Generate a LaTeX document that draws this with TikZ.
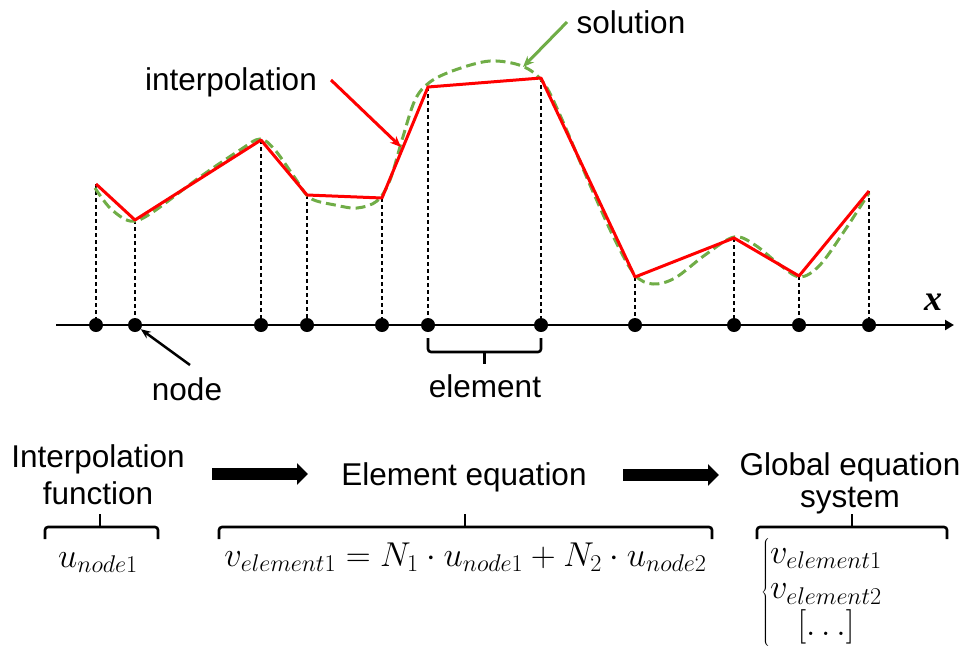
\RequirePackage{fix-cm}
\documentclass[tikz,border=0pt]{standalone}
\usepackage[no-math]{fontspec}
\setmainfont{Liberation Sans}
\newfontfamily\axisfont{Liberation Serif}
\usetikzlibrary{arrows.meta}
\definecolor{fgreen}{RGB}{112,173,71}
\begin{document}
\begin{tikzpicture}[x=1pt,y=-1pt,
  lbl/.style={inner sep=0pt, font=\fontsize{31.5}{36}\selectfont, align=center},
  mth/.style={inner sep=0pt, font=\fontsize{34.5}{35.5}\selectfont},
  dot/.style={circle, fill=black, inner sep=0pt, minimum size=14pt},
  guide/.style={black, line width=1.3pt, dash pattern=on 4pt off 3pt},
  interp/.style={red, line width=3pt, line join=round},
  sol/.style={fgreen, line width=3pt, dash pattern=on 10pt off 5pt},
  brace/.style={black, line width=2.6pt, rounded corners=3pt},
  bigarrow/.style={black, line width=12pt, -{Triangle[length=11pt,width=21pt]}},
]
\useasboundingbox (0,0) rectangle (965,646);

% axis
\coordinate (axs) at (56,325);
\coordinate (axe) at (954,325);
\draw[line width=2.5pt, -{Triangle[length=9pt,width=10pt]}] (axs) -- (axe);
\node[inner sep=0pt, anchor=base, font=\axisfont\fontsize{36}{40}\selectfont\bfseries\itshape] (xl) at (933,310) {x};

% nodes and interpolation points
\foreach \i/\x/\y in {1/96/184, 2/135/220, 3/261/140, 4/307/195, 5/382/198, 6/428/87, 7/541/78, 8/635/277, 9/734/238, 10/799/276, 11/869/191}{
  \node[dot] (n\i) at (\x,325) {};
  \coordinate (p\i) at (\x,\y);
}
\foreach \i in {1,...,11}{ \draw[guide] (p\i) -- (n\i); }

% solution curve
\draw[sol] plot[smooth, tension=0.55] coordinates {(95,188) (110,208) (130,221) (150,214) (200,177) (240,150) (260,139) (275,150) (295,178) (310,198) (335,205) (357,208) (377,201) (390,180) (402,140) (415,100) (430,82) (455,70) (490,61) (522,66) (543,82) (560,115) (590,185) (615,240) (635,275) (653,284) (675,278) (705,255) (734,237) (755,245) (780,265) (800,277) (820,265) (845,230) (869,193)};

% interpolation polyline
\draw[interp] (p1) -- (p2) -- (p3) -- (p4) -- (p5) -- (p6) -- (p7) -- (p8) -- (p9) -- (p10) -- (p11);

% labels with pointers
\node[lbl, anchor=base] (tinterp) at (231,90) {interpolation};
\coordinate (ia) at (331,80);
\coordinate (ib) at (401,147);
\draw[red, line width=3pt, -{Stealth[length=11pt,width=9pt]}] (ia) -- (ib);

\node[lbl, anchor=base] (tsol) at (631,33) {solution};
\coordinate (sa) at (567,22);
\coordinate (sb) at (523,67);
\draw[fgreen, line width=3pt, -{Stealth[length=11pt,width=9pt]}] (sa) -- (sb);

\node[lbl, anchor=base] (tnode) at (187,400) {node};
\coordinate (na) at (190,365);
\draw[black, line width=2.5pt, -{Stealth[length=10pt,width=8pt]}] (na) -- (n2);

\node[lbl, anchor=base] (telem) at (485,397) {element};
\draw[brace] (428,338) -- (428,352) -- (541,352) -- (541,338);
\draw[brace] (484.5,352) -- (484.5,364);

% bottom row
\node[lbl, anchor=base, font=\fontsize{31.5}{36.5}\selectfont] (tif) at (98,504) {Interpolation\\function};
\node[lbl, anchor=base] (teq) at (464,485) {Element equation};
\node[lbl, anchor=base, font=\fontsize{31.5}{32}\selectfont] (tglob) at (850,507) {Global equation\\system};

\coordinate (a1s) at (212,474);
\coordinate (a1e) at (308,474);
\coordinate (a2s) at (623,475);
\coordinate (a2e) at (719,475);
\draw[bigarrow] (a1s) -- (a1e);
\draw[bigarrow] (a2s) -- (a2e);

\draw[brace] (45,539) -- (45,527) -- (158,527) -- (158,539);
\draw[brace] (100,527) -- (100,514);
\draw[brace] (219,539) -- (219,527) -- (712,527) -- (712,539);
\draw[brace] (465,527) -- (465,514);
\draw[brace] (757,539) -- (757,527) -- (947,527) -- (947,539);
\draw[brace] (852,527) -- (852,514);

\node[mth, anchor=base] (mu) at (98,567) {$u_{node1}$};
\node[mth, anchor=base] (mv) at (465.5,566) {$v_{element1}=N_1\cdot u_{node1}+N_2\cdot u_{node2}$};
\node[mth, anchor=base west] (msys) at (761,601) {$\left\{\begin{array}{@{}l@{}}v_{element1}\\ v_{element2}\\ \multicolumn{1}{c}{[\ldots]}\end{array}\right.$};
\end{tikzpicture}
\end{document}
